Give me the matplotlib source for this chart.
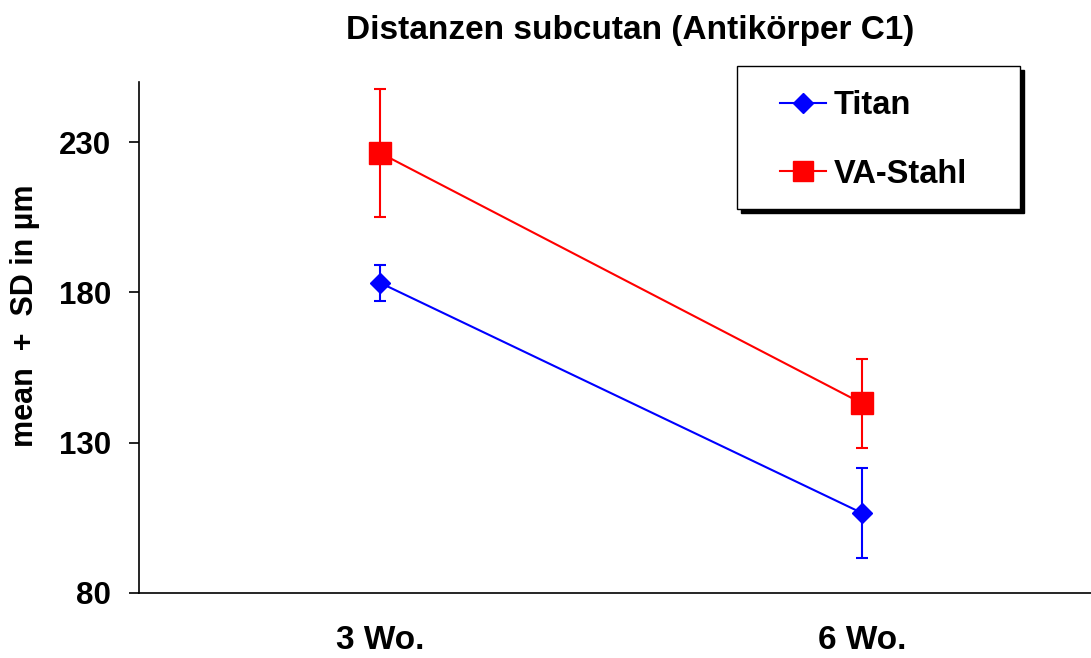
import matplotlib
matplotlib.use("Agg")
import matplotlib.pyplot as plt
from matplotlib.patches import Rectangle
from matplotlib.lines import Line2D

plt.rcParams['font.family'] = ['Liberation Sans', 'DejaVu Sans']
plt.rcParams['font.weight'] = 'bold'

# Daten
categories = ["3 Wo.", "6 Wo."]
titan_mean = [183.2, 106.6]
titan_sd = [6.0, 15.0]
stahl_mean = [226.4, 143.1]
stahl_sd = [21.2, 14.8]
y_ticks = [80, 130, 180, 230]

fig = plt.figure(figsize=(10.91, 6.58), dpi=100)
W, H = 1091, 658
ax = fig.add_axes([139 / W, 1 - 593 / H, 964 / W, (593 - 82) / H])

x = list(range(len(categories)))

ax.errorbar(x, titan_mean, yerr=titan_sd, color='#0000FF', marker='D', markersize=10,
            linewidth=1.5, elinewidth=1.5, capsize=4, capthick=1.5, zorder=3)
ax.errorbar(x, stahl_mean, yerr=stahl_sd, color='#FF0000', marker='s', markersize=15.5,
            linewidth=1.5, elinewidth=1.5, capsize=4, capthick=1.5, zorder=3)

ax.set_xlim(-0.5, 1.5)
ax.set_ylim(80, 250)
ax.set_yticks(y_ticks)
ax.set_xticks(x)
ax.set_xticklabels(categories)

for s in ['top', 'right']:
    ax.spines[s].set_visible(False)
for s in ['left', 'bottom']:
    ax.spines[s].set_linewidth(1.2)

ax.tick_params(axis='y', direction='out', length=7, width=1.2, pad=13, labelsize=22.5)
ax.tick_params(axis='x', length=0, pad=23, labelsize=24)

fig.text(25 / W, 1 - 316 / H, "mean  +  SD in µm", rotation=90, ha='center', va='center',
         fontsize=22, fontweight='bold')

fig.text(630 / W, 1 - 30 / H, "Distanzen subcutan (Antikörper C1)", ha='center', va='center',
         fontsize=24, fontweight='bold')

# Legendenrahmen mit Schatten
fig.patches.append(Rectangle((741 / W, 1 - 213 / H), 283 / W, 143 / H, transform=fig.transFigure,
                             facecolor='black', edgecolor='black', zorder=5))
fig.patches.append(Rectangle((737 / W, 1 - 209 / H), 283 / W, 143 / H, transform=fig.transFigure,
                             facecolor='white', edgecolor='black', linewidth=1, zorder=6))

handles = [
    Line2D([], [], color='#0000FF', marker='D', markersize=10, linewidth=1.5),
    Line2D([], [], color='#FF0000', marker='s', markersize=15, linewidth=1.5),
]
leg = fig.legend(handles, ["Titan", "VA-Stahl"], loc='center left',
                 bbox_to_anchor=(780 / W, 1 - 140 / H), bbox_transform=fig.transFigure,
                 frameon=False, fontsize=23.5, handlelength=1.4, handletextpad=0.25,
                 labelspacing=1.15, borderpad=0, borderaxespad=0)
leg.set_zorder(7)

fig.savefig("out.png", dpi=100)
